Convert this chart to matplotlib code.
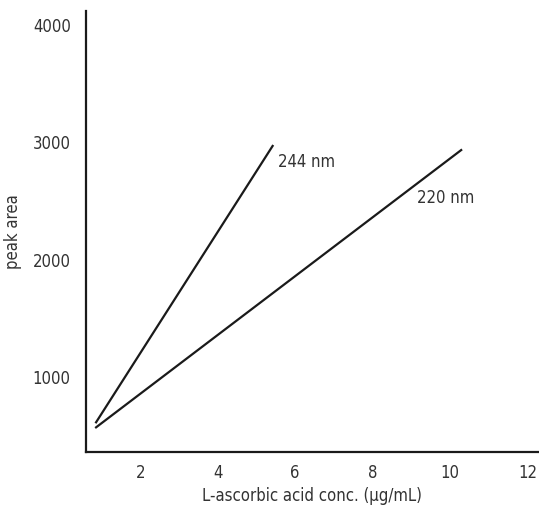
import matplotlib
matplotlib.use("Agg")
import matplotlib.pyplot as plt

# calibration lines (conc. in ug/mL, peak area)
conc_244 = [0.86, 5.42]
area_244 = [615, 2970]
conc_220 = [0.86, 10.29]
area_220 = [572, 2935]

x_ticks = [2, 4, 6, 8, 10, 12]
y_ticks = [1000, 2000, 3000, 4000]

plt.rcParams["font.family"] = ["DejaVu Sans"]
plt.rcParams["font.stretch"] = "condensed"
TXT = "#333333"
FS = 12

fig = plt.figure(figsize=(5.39, 5.08), dpi=100)
ax = fig.add_axes([86 / 539, 56 / 508, 1 - 86 / 539, 441 / 508])

ax.plot(conc_244, area_244, color="#1a1a1a", lw=1.6)
ax.plot(conc_220, area_220, color="#1a1a1a", lw=1.6)
ax.text(5.55, 2830, "244 nm", fontsize=FS, color=TXT, va="center")
ax.text(9.15, 2530, "220 nm", fontsize=FS, color=TXT, va="center")

ax.set_xlim(0.6, 12.3)
ax.set_ylim(362, 4120)
ax.set_xticks(x_ticks)
ax.set_yticks(y_ticks)
ax.tick_params(length=0, labelsize=FS, labelcolor=TXT, pad=11)
ax.tick_params(axis="x", pad=9)
for s in ["top", "right"]:
    ax.spines[s].set_visible(False)
for s in ["left", "bottom"]:
    ax.spines[s].set_linewidth(1.6)
    ax.spines[s].set_color("#1a1a1a")

ax.set_xlabel("L-ascorbic acid conc. (\u00b5g/mL)", fontsize=FS, color=TXT, labelpad=3)
ax.set_ylabel("peak area", fontsize=FS, color=TXT, labelpad=8)

fig.savefig("out.png", dpi=100)
